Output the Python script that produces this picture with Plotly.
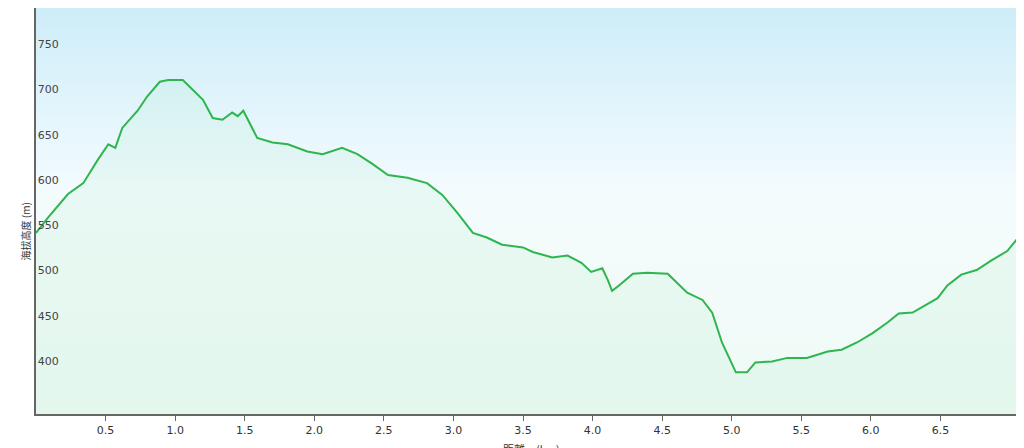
import plotly.graph_objects as go

dist = [0, 0.086, 0.23, 0.34, 0.445, 0.52, 0.57, 0.62, 0.73, 0.80, 0.89, 0.95, 1.055, 1.13, 1.2, 1.27, 1.34, 1.41, 1.45, 1.49,
        1.59, 1.70, 1.81, 1.95, 2.06, 2.2, 2.31, 2.42, 2.53, 2.67, 2.81, 2.92, 3.03, 3.14, 3.24, 3.35, 3.50, 3.57, 3.71, 3.82,
        3.92, 3.99, 4.07, 4.11, 4.14, 4.19, 4.29, 4.39, 4.54, 4.68, 4.79, 4.86, 4.93, 5.03, 5.11, 5.17, 5.29, 5.40, 5.54, 5.69,
        5.79, 5.90, 6.01, 6.12, 6.20, 6.30, 6.40, 6.48, 6.55, 6.65, 6.76, 6.87, 6.98, 7.06, 7.10]
elev = [550, 567, 593, 605, 631, 648, 644, 666, 685, 701, 717, 719, 719, 708, 697, 677, 675, 683, 679, 685,
        655, 650, 648, 640, 637, 644, 637, 626, 614, 611, 605, 592, 572, 550, 545, 537, 534, 529, 523, 525,
        517, 507, 511, 498, 486, 492, 505, 506, 505, 484, 476, 462, 429, 396, 396, 407, 408, 412, 412, 419,
        421, 429, 439, 451, 461, 462, 471, 478, 492, 504, 509, 520, 530, 545, 545]
x_ticks = [0, 0.5, 1, 1.5, 2, 2.5, 3, 3.5, 4, 4.5, 5, 5.5, 6, 6.5, 7.1]
x_labels = ["0.0", "0.5", "1.0", "1.5", "2.0", "2.5", "3.0", "3.5", "4.0", "4.5", "5.0", "5.5", "6.0", "6.5", "7.1"]
y_ticks = [400, 450, 500, 550, 600, 650, 700, 750]

X0, X1, Y0, Y1 = 0, 7.115, 350, 798.5

fig = go.Figure()
fig.add_trace(go.Scatter(
    x=[X0, X1, X1, X0, X0], y=[Y0, Y0, Y1, Y1, Y0], mode="none", fill="toself",
    fillgradient=dict(type="vertical", colorscale=[[0, "#eefaf5"], [0.35, "#f3fbfa"], [0.55, "#f4fbfe"], [1, "#cdedf9"]]),
    hoverinfo="skip", showlegend=False))
fig.add_trace(go.Scatter(
    x=dist, y=elev, mode="lines", line=dict(color="#2eb54e", width=2),
    fill="tozeroy", fillcolor="rgba(150,230,180,0.12)", showlegend=False, cliponaxis=True))

fig.update_layout(
    width=1024, height=448, margin=dict(l=28, r=6, t=0, b=42, autoexpand=False),
    paper_bgcolor="white", plot_bgcolor="white",
    font=dict(family="DejaVu Sans", size=11, color="#333"),
    xaxis=dict(range=[X0, X1], autorange=False, automargin=False, tickvals=x_ticks, ticktext=x_labels, showgrid=False,
               showline=True, linecolor="#666", linewidth=2, ticks="outside", ticklen=5, tickcolor="#666",
               ticklabeloverflow="allow", zeroline=False),
    yaxis=dict(range=[Y0, Y1], autorange=False, automargin=False, tickvals=y_ticks, ticklabelposition="inside top",
               showgrid=True, gridcolor="#c8d4d8", gridwidth=1, showline=True, linecolor="#666", linewidth=2,
               zeroline=False),
    annotations=[
        dict(text="距離　(km)", xref="paper", yref="paper", x=0.5, y=-0.085, yanchor="middle", showarrow=False,
             font=dict(size=11, family="Noto Sans CJK JP", color="#333")),
        dict(text="海拔高度 (m)", xref="paper", yref="paper", x=-0.011, y=0.45, xanchor="center", showarrow=False,
             textangle=-90, font=dict(size=10, family="Noto Sans CJK JP", color="#333")),
    ],
)
fig.write_html("out.html")
